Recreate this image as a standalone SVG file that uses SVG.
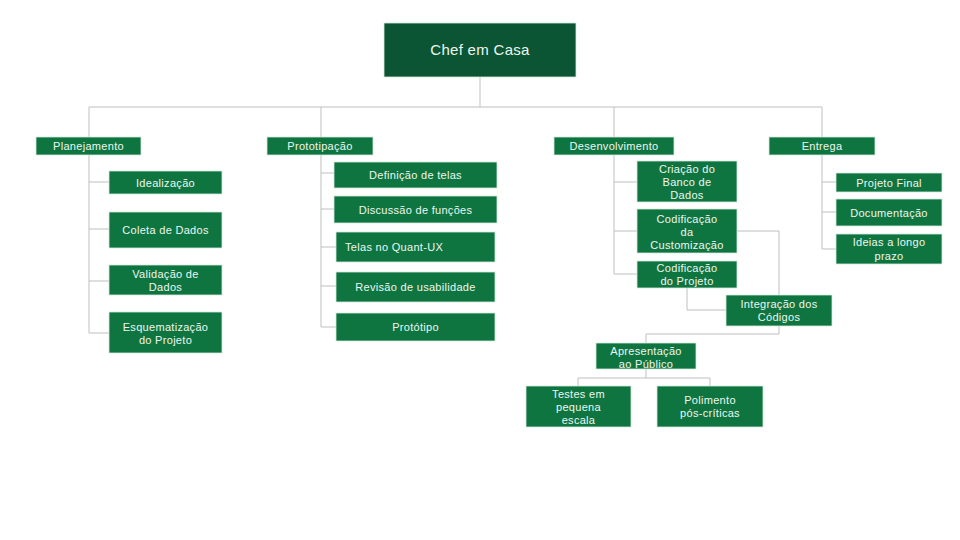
<svg xmlns="http://www.w3.org/2000/svg" width="960" height="540" viewBox="0 0 960 540">
<style>
.n{fill:#0e7541;stroke:#d8e8dc;stroke-width:0.8}
.root{fill:#0b5534;stroke:#d8e8dc;stroke-width:0.8}
.t{font-family:"Liberation Sans","Noto Sans",sans-serif;font-size:11px;letter-spacing:0.3px;fill:#eef6ef;text-anchor:middle}
.rt{font-family:"Liberation Sans","Noto Sans",sans-serif;font-size:15px;letter-spacing:0.3px;fill:#eef6ef;text-anchor:middle}
.c{fill:none;stroke:#bfbfbf;stroke-width:1}
</style>
<rect width="960" height="540" fill="#ffffff"/>
<g id="connectors" class="c">
<path d="M480 77V107M89 107H822M89 107V137M321 107V137M614 107V137M822 107V137"/>
<path d="M89 155V333M89 182H109M89 229H109M89 281H109M89 333H109"/>
<path d="M321 155V327M321 173H334M321 209H334M321 247H336M321 286H336M321 327H336"/>
<path d="M614 155V274M614 182H637M614 231H637M614 274H637"/>
<path d="M737 231H779V295M687 288V310H726M779 326V334H646V343"/>
<path d="M646 369V378M578 378H710M578 378V386M710 378V386"/>
<path d="M822 155V249M822 182H836M822 212H836M822 249H836"/>
</g>
<g id="root"><rect class="root" x="384" y="23" width="192" height="54"/><text class="rt" x="480" y="55">Chef em Casa</text></g>
<g id="planejamento"><rect class="n" x="36" y="137" width="105" height="18"/><text class="t" x="88.5" y="150">Planejamento</text></g>
<g id="prototipacao"><rect class="n" x="267" y="137" width="106" height="18"/><text class="t" x="320" y="150">Prototipação</text></g>
<g id="desenvolvimento"><rect class="n" x="554" y="137" width="120" height="18"/><text class="t" x="614" y="150">Desenvolvimento</text></g>
<g id="entrega"><rect class="n" x="769" y="137" width="106" height="18"/><text class="t" x="822" y="150">Entrega</text></g>
<g id="idealizacao"><rect class="n" x="109" y="171" width="113" height="23"/><text class="t" x="165.5" y="186.5">Idealização</text></g>
<g id="coleta"><rect class="n" x="109" y="212" width="113" height="36"/><text class="t" x="165.5" y="234">Coleta de Dados</text></g>
<g id="validacao"><rect class="n" x="109" y="265" width="113" height="30"/><text class="t" x="165.5" y="278">Validação de<tspan x="165.5" dy="13">Dados</tspan></text></g>
<g id="esquematizacao"><rect class="n" x="109" y="312" width="113" height="41"/><text class="t" x="165.5" y="330.7">Esquematização<tspan x="165.5" dy="13.3">do Projeto</tspan></text></g>
<g id="definicao"><rect class="n" x="334" y="162" width="163" height="26"/><text class="t" x="415.5" y="179">Definição de telas</text></g>
<g id="discussao"><rect class="n" x="334" y="196" width="163" height="27"/><text class="t" x="415.5" y="213.5">Discussão de funções</text></g>
<g id="telas"><rect class="n" x="336" y="232" width="159" height="30"/><text class="t" x="345" y="251" style="text-anchor:start">Telas no Quant-UX</text></g>
<g id="revisao"><rect class="n" x="336" y="272" width="159" height="30"/><text class="t" x="415.5" y="291">Revisão de usabilidade</text></g>
<g id="prototipo"><rect class="n" x="336" y="313" width="159" height="28"/><text class="t" x="415.5" y="331">Protótipo</text></g>
<g id="criacao"><rect class="n" x="637" y="161" width="100" height="41"/><text class="t" x="687" y="172.7">Criação do<tspan x="687" dy="13">Banco de</tspan><tspan x="687" dy="13">Dados</tspan></text></g>
<g id="codcustom"><rect class="n" x="637" y="209" width="100" height="44"/><text class="t" x="687" y="222.7">Codificação<tspan x="687" dy="13">da</tspan><tspan x="687" dy="13">Customização</tspan></text></g>
<g id="codprojeto"><rect class="n" x="637" y="261" width="100" height="27"/><text class="t" x="687" y="272">Codificação<tspan x="687" dy="13">do Projeto</tspan></text></g>
<g id="integracao"><rect class="n" x="726" y="295" width="106" height="31"/><text class="t" x="779" y="308">Integração dos<tspan x="779" dy="13">Códigos</tspan></text></g>
<g id="apresentacao"><rect class="n" x="596" y="343" width="100" height="26"/><text class="t" x="646" y="354.5">Apresentação<tspan x="646" dy="13">ao Público</tspan></text></g>
<g id="testes"><rect class="n" x="526" y="386" width="105" height="41"/><text class="t" x="578.5" y="397.5">Testes em<tspan x="578.5" dy="13">pequena</tspan><tspan x="578.5" dy="13">escala</tspan></text></g>
<g id="polimento"><rect class="n" x="657" y="386" width="106" height="41"/><text class="t" x="710" y="404">Polimento<tspan x="710" dy="13">pós-críticas</tspan></text></g>
<g id="projetofinal"><rect class="n" x="836" y="173" width="106" height="19"/><text class="t" x="889" y="186.5">Projeto Final</text></g>
<g id="documentacao"><rect class="n" x="836" y="199" width="106" height="27"/><text class="t" x="889" y="216.5">Documentação</text></g>
<g id="ideias"><rect class="n" x="836" y="234" width="106" height="30"/><text class="t" x="889" y="246.3">Ideias a longo<tspan x="889" dy="14">prazo</tspan></text></g>
</svg>
